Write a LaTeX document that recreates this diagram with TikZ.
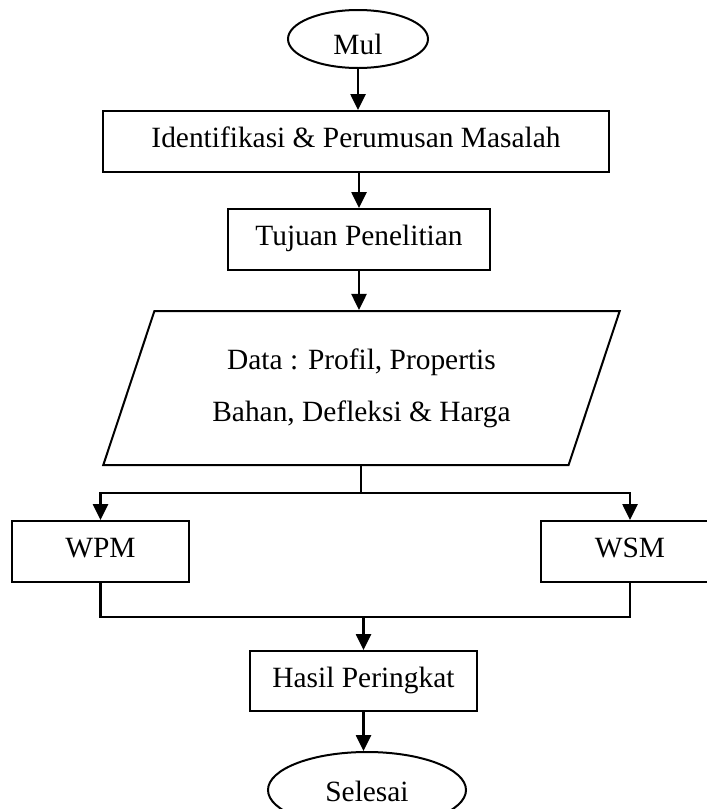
\documentclass[tikz,border=0pt]{standalone}
\usepackage{fontspec}
\setmainfont{Liberation Serif}
\usetikzlibrary{arrows.meta, positioning, shapes.geometric}
\tikzset{
  fcterm/.style = {ellipse, draw, line width=1pt, inner sep=1pt,
                   text depth=0pt, font=\fontsize{14.7}{17}\selectfont},
  fcproc/.style = {rectangle, draw, line width=1pt, minimum height=30.5pt,
                   text height=11pt, text depth=5pt,
                   font=\fontsize{14.7}{17}\selectfont},
  fcdata/.style = {trapezium, trapezium left angle=67.4,
                   trapezium right angle=112.6, trapezium stretches=true,
                   draw, line width=1pt, align=center,
                   font=\fontsize{14.7}{26}\selectfont},
  fcflow/.style = {line width=1.3pt, -{Triangle[length=8pt, width=7.5pt]}},
  fcline/.style = {line width=1.3pt},
}

\begin{document}
\begin{tikzpicture}[x=0.5pt, y=-0.5pt]
    \useasboundingbox (0,0) rectangle (707,809);

    % terminators and steps
    \node[fcterm, minimum width=70pt, minimum height=29pt, text height=15pt]
         (mulai) at (358,39) {Mul};
    \node[fcproc, minimum width=253pt] (ident) at (356,141.5)
         {Identifikasi \& Perumusan Masalah};
    \node[fcproc, minimum width=131pt] (tujuan) at (359,239.5)
         {Tujuan Penelitian};
    \node[fcdata, minimum width=258.5pt, minimum height=77pt] (data)
         at (361.5,388) {Data : Profil, Propertis\\Bahan, Defleksi \& Harga};
    \node[fcproc, minimum width=88.5pt] (wpm) at (100.5,551.5) {WPM};
    \node[fcproc, minimum width=89pt] (wsm) at (630,551.5) {WSM};
    \node[fcproc, minimum width=113.5pt, minimum height=30pt] (hasil)
         at (363.5,681) {Hasil Peringkat};
    \node[fcterm, minimum width=99pt, minimum height=38pt, text height=11pt]
         (selesai) at (367,790) {Selesai};

    \coordinate (split) at (361,493);
    \coordinate (merge) at (363.5,617);

    % connectors
    \draw[fcflow] (mulai.south) -- (mulai.south |- ident.north);
    \draw[fcflow] (tujuan.north |- ident.south) -- (tujuan.north);
    \draw[fcflow] (tujuan.south) -- (tujuan.south |- data.north);
    \draw[fcline] (split |- data.south) -- (split);
    \draw[fcflow] (split) -| (wpm.north);
    \draw[fcflow] (split) -| (wsm.north);
    \draw[fcline] (wpm.south) |- (wsm.south |- merge) -- (wsm.south);
    \draw[fcflow] (merge) -- (hasil.north);
    \draw[fcflow] (hasil.south) -- (hasil.south |- selesai.north);
\end{tikzpicture}
\end{document}
